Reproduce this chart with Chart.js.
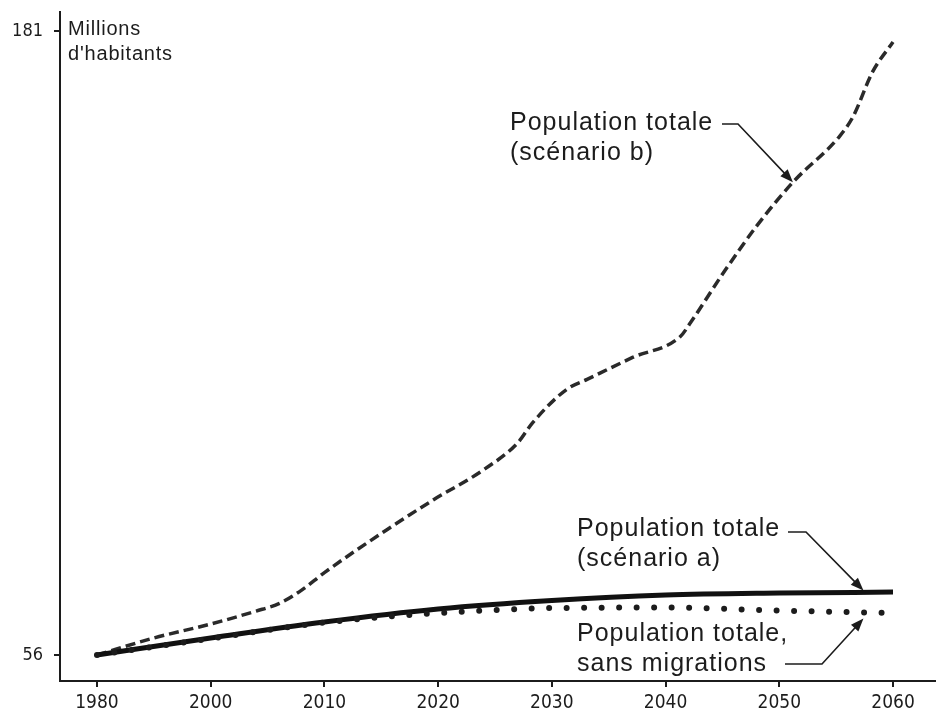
<!DOCTYPE html>
<html>
<head>
<meta charset="utf-8">
<script src="https://cdn.jsdelivr.net/npm/chart.js@4.4.1/dist/chart.umd.min.js"></script>
<style>
  html, body { margin: 0; padding: 0; background: #fff; }
  #wrap { width: 936px; height: 718px; }
</style>
</head>
<body>
<div id="wrap"><canvas id="chart" width="936" height="718"></canvas></div>
<script>
// axis definition (the source axis puts 1980 one step before 2000)
var tickYears = [1980, 2000, 2010, 2020, 2030, 2040, 2050, 2060];
var yTicks = [56, 181];

// population totale, scénario b (millions)
var yearsB = [1980, 1990, 2000, 2004, 2006, 2008, 2010, 2015.5, 2019.6, 2024, 2027, 2028.3, 2031.3, 2033.1, 2037.1, 2041.3, 2042.2, 2045.1, 2048, 2051.2, 2055.3, 2056.5, 2058.2, 2060];
var popB = [56, 59.4, 62.2, 64.8, 66.3, 69.0, 72.5, 81.1, 87.1, 93.1, 98.5, 102.5, 109.2, 111.2, 115.6, 119.8, 122.6, 132.6, 141.9, 150.7, 159.9, 163.9, 172.8, 178.8];

// population totale, scénario a
var yearsA = [1980, 2000, 2010, 2020, 2030, 2040, 2050, 2060];
var popA = [56, 59.4, 62.6, 65.2, 66.9, 68.0, 68.4, 68.6];

// population totale, sans migrations
var yearsSans = [1980, 2000, 2010, 2020, 2025, 2030, 2040, 2050, 2060];
var popSans = [56, 59.3, 62.5, 64.4, 65.0, 65.4, 65.5, 64.9, 64.4];

var ink = "#1c1c1c";
var narrow = '"Liberation Sans Narrow", "DejaVu Sans Condensed", "Arial Narrow", sans-serif';

function yearToPos(year) {
  for (var i = 0; i < tickYears.length - 1; i++) {
    if (year <= tickYears[i + 1]) return i + (year - tickYears[i]) / (tickYears[i + 1] - tickYears[i]);
  }
  return tickYears.length - 1;
}
function points(years, values) {
  return years.map(function (y, i) { return { x: yearToPos(y), y: values[i] }; });
}

var notes = [
  { lines: ["Population totale", "(scénario b)"], x: 510, y: 130, hook: [722, 738, 124], tip: [2051.2, 150.7] },
  { lines: ["Population totale", "(scénario a)"], x: 577, y: 536, hook: [788, 806, 532], tip: [2057.4, 68.9] },
  { lines: ["Population totale,", "sans migrations"], x: 577, y: 641, hook: [785, 822, 664], tip: [2057.4, 63.3] }
];

var labelPlugin = {
  id: "labels",
  afterDraw: function (chart) {
    var ctx = chart.ctx, xs = chart.scales.x, ys = chart.scales.y;
    ctx.save();
    ctx.fillStyle = ink;
    ctx.strokeStyle = ink;
    ctx.textBaseline = "alphabetic";
    ctx.textAlign = "left";
    if ("letterSpacing" in ctx) ctx.letterSpacing = "0.8px";
    ctx.font = '20px "Liberation Sans", Arial, sans-serif';
    ctx.fillText("Millions", 68, 35);
    ctx.fillText("d'habitants", 68, 60);

    ctx.font = '25px "Liberation Sans", Arial, sans-serif';
    if ("letterSpacing" in ctx) ctx.letterSpacing = "1px";
    notes.forEach(function (n) {
      n.lines.forEach(function (t, i) { ctx.fillText(t, n.x, n.y + i * 30); });
      var tx = xs.getPixelForValue(yearToPos(n.tip[0]));
      var ty = ys.getPixelForValue(n.tip[1]);
      var hx = n.hook[1], hy = n.hook[2];
      ctx.lineWidth = 1.6;
      ctx.beginPath();
      ctx.moveTo(n.hook[0], hy);
      ctx.lineTo(hx, hy);
      var ang = Math.atan2(ty - hy, tx - hx);
      var len = 13;
      ctx.lineTo(tx - Math.cos(ang) * len * 0.8, ty - Math.sin(ang) * len * 0.8);
      ctx.stroke();
      ctx.beginPath();
      ctx.moveTo(tx, ty);
      ctx.lineTo(tx - Math.cos(ang) * len + Math.sin(ang) * 5, ty - Math.sin(ang) * len - Math.cos(ang) * 5);
      ctx.lineTo(tx - Math.cos(ang) * len - Math.sin(ang) * 5, ty - Math.sin(ang) * len + Math.cos(ang) * 5);
      ctx.closePath();
      ctx.fill();
    });
    ctx.restore();
  }
};

new Chart(document.getElementById("chart"), {
  type: "line",
  data: {
    datasets: [
      { label: "Population totale, sans migrations", data: points(yearsSans, popSans), borderColor: ink, borderWidth: 6, borderDash: [0, 17.5], borderCapStyle: "round" },
      { label: "Population totale (scénario a)", data: points(yearsA, popA), borderColor: "#111", borderWidth: 5 },
      { label: "Population totale (scénario b)", data: points(yearsB, popB), borderColor: "#2a2a2a", borderWidth: 3.5, borderDash: [10, 5] }
    ]
  },
  options: {
    responsive: false,
    animation: false,
    layout: { padding: { top: 12, left: 0, right: 0, bottom: 0 } },
    elements: { point: { radius: 0 }, line: { cubicInterpolationMode: "monotone", fill: false } },
    plugins: { legend: { display: false }, tooltip: { enabled: false } },
    scales: {
      x: {
        type: "linear",
        min: -0.325,
        max: 7.378,
        afterBuildTicks: function (s) { s.ticks = tickYears.map(function (_, i) { return { value: i }; }); },
        afterFit: function (s) { s.height = 37; s.paddingLeft = 0; s.paddingRight = 0; },
        ticks: { callback: function (v) { return tickYears[v]; }, font: { family: narrow, size: 19 }, color: ink, padding: 5, maxRotation: 0, autoSkip: false },
        grid: { drawOnChartArea: false, drawTicks: true, tickLength: 6, color: ink, lineWidth: 2 },
        border: { display: true, color: ink, width: 2 }
      },
      y: {
        type: "linear",
        min: 50.79,
        max: 184.8,
        afterBuildTicks: function (s) { s.ticks = yTicks.map(function (v) { return { value: v }; }); },
        afterFit: function (s) { s.width = 60; s.paddingTop = 0; s.paddingBottom = 0; },
        ticks: { font: { family: narrow, size: 18 }, color: ink, padding: 11 },
        grid: { drawOnChartArea: false, drawTicks: true, tickLength: 6, color: ink, lineWidth: 2 },
        border: { display: true, color: ink, width: 2 }
      }
    }
  },
  plugins: [labelPlugin]
});
</script>
</body>
</html>
